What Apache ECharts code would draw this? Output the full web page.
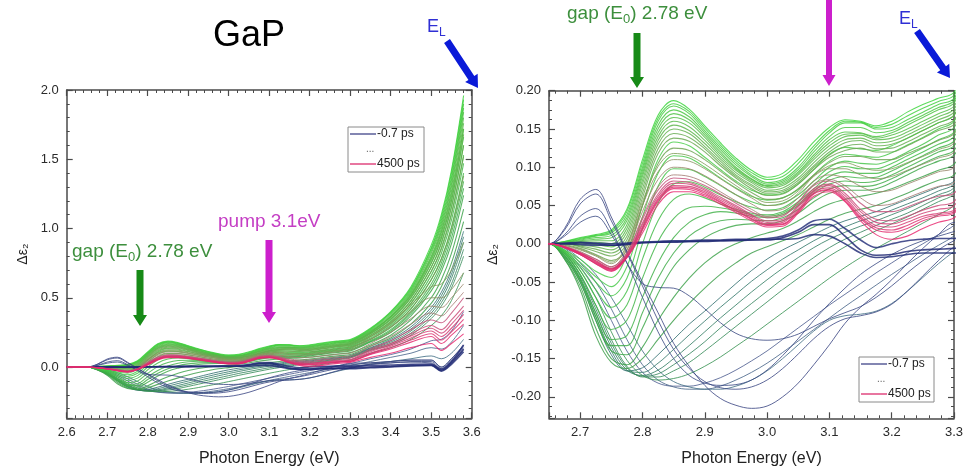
<!DOCTYPE html>
<html>
<head>
<meta charset="utf-8">
<title>GaP transient spectra</title>
<script src="https://cdn.jsdelivr.net/npm/echarts@6/dist/echarts.min.js"></script>
<style>
html, body { margin: 0; padding: 0; background: #fff; }
#chart { width: 971px; height: 476px; }
</style>
</head>
<body>
<div id="chart"></div>
<script>
// photon energy grid (eV), shared by both panels
const energy = [2.600, 2.625, 2.650, 2.675, 2.700, 2.725, 2.750, 2.775, 2.800, 2.825,
  2.850, 2.875, 2.900, 2.925, 2.950, 2.975, 3.000, 3.025, 3.050, 3.075,
  3.100, 3.125, 3.150, 3.175, 3.200, 3.225, 3.250, 3.275, 3.300,
  3.350, 3.400, 3.450, 3.500, 3.525, 3.550, 3.580]

// delta eps2 curves (early navy -> green -> late pink)
const navyFlat = [
  [0, 0, 0, 0, 0.001, 0, -0.002, -0.001, 0.001, 0.002, 0.002, 0.003, 0.003, 0.004, 0.004, 0.005, 0.005, 0.008, 0.015, 0.025, 0.025, 0.01, -0.008, -0.015, -0.014, -0.01, -0.008, -0.007, -0.006, 0, 0.005, 0.012, 0.015, -0.025, 0.03, 0.13],
  [0, 0, 0, 0, -0.001, -0.002, -0.002, 0, 0.002, 0.002, 0.003, 0.003, 0.004, 0.004, 0.005, 0.005, 0.006, 0.006, 0.007, 0.012, 0.01, 0, -0.012, -0.018, -0.017, -0.014, -0.012, -0.012, -0.012, -0.005, 0, 0.008, 0.012, -0.03, 0.02, 0.11],
  [0, 0, 0, 0.001, 0.002, 0.001, 0, 0.001, 0.002, 0.003, 0.004, 0.004, 0.005, 0.005, 0.006, 0.006, 0.007, 0.01, 0.018, 0.03, 0.032, 0.02, 0.005, -0.005, 0, 0.004, 0.006, 0.007, 0.007, 0.01, 0.015, 0.02, 0.022, -0.015, 0.04, 0.16]
]
const navyBump = [
  [0, 0, 0, 0.02, 0.058, 0.071, 0.035, -0.01, -0.05, -0.09, -0.13, -0.16, -0.185, -0.202, -0.211, -0.215, -0.212, -0.2, -0.182, -0.158, -0.132, -0.104, -0.083, -0.066, -0.047, -0.026, -0.006, 0.012, 0.028, 0.03, 0.04, 0.05, 0.05, 0, 0.06, 0.16],
  [0, 0, 0, 0.018, 0.052, 0.065, 0.03, -0.012, -0.055, -0.1, -0.138, -0.163, -0.18, -0.188, -0.19, -0.187, -0.178, -0.163, -0.144, -0.124, -0.108, -0.098, -0.094, -0.089, -0.079, -0.062, -0.042, -0.022, -0.004, 0.02, 0.03, 0.04, 0.04, -0.01, 0.05, 0.14],
  [0, 0, 0, 0.012, 0.036, 0.046, 0.018, -0.025, -0.052, -0.057, -0.058, -0.068, -0.085, -0.103, -0.117, -0.124, -0.126, -0.124, -0.118, -0.108, -0.098, -0.09, -0.082, -0.07, -0.055, -0.038, -0.022, -0.008, 0.004, 0.02, 0.03, 0.035, 0.03, -0.02, 0.04, 0.12],
  [0, 0, 0, 0.01, 0.028, 0.036, 0.012, -0.025, -0.07, -0.115, -0.15, -0.172, -0.182, -0.185, -0.184, -0.178, -0.165, -0.146, -0.124, -0.1, -0.078, -0.058, -0.04, -0.026, -0.014, -0.004, 0.004, 0.01, 0.016, 0.03, 0.04, 0.05, 0.05, 0, 0.06, 0.15]
]
const slate = [
  [0, 0, 0, -0.008, -0.03, -0.06, -0.1, -0.14, -0.168, -0.182, -0.186, -0.186, -0.182, -0.175, -0.165, -0.153, -0.14, -0.125, -0.11, -0.095, -0.08, -0.066, -0.052, -0.038, -0.025, -0.012, 0, 0.012, 0.024, 0.06, 0.09, 0.13, 0.19, 0.2, 0.26, 0.4],
  [0, 0, 0, -0.006, -0.025, -0.05, -0.085, -0.125, -0.158, -0.178, -0.187, -0.19, -0.19, -0.186, -0.178, -0.168, -0.156, -0.142, -0.127, -0.112, -0.097, -0.082, -0.068, -0.054, -0.04, -0.027, -0.014, -0.002, 0.01, 0.04, 0.07, 0.1, 0.14, 0.13, 0.18, 0.3],
  [0, 0, 0, -0.005, -0.02, -0.04, -0.07, -0.105, -0.14, -0.165, -0.18, -0.187, -0.19, -0.19, -0.186, -0.178, -0.166, -0.15, -0.132, -0.114, -0.1, -0.094, -0.092, -0.088, -0.078, -0.062, -0.044, -0.026, -0.01, 0.02, 0.04, 0.06, 0.08, 0.06, 0.1, 0.2]
]
const tealFan = [
  [0, 0, 0, -0.018, -0.05, -0.1, -0.145, -0.166, -0.162, -0.145, -0.125, -0.105, -0.088, -0.07, -0.052, -0.035, -0.02, -0.008, 0.002, 0.012, 0.022, 0.03, 0.036, 0.042, 0.05, 0.058, 0.066, 0.074, 0.082, 0.14, 0.2, 0.29, 0.43, 0.54, 0.7, 0.98],
  [0, 0, 0, -0.016, -0.047, -0.095, -0.14, -0.166, -0.168, -0.156, -0.138, -0.119, -0.101, -0.083, -0.066, -0.049, -0.034, -0.02, -0.008, 0.004, 0.014, 0.022, 0.03, 0.036, 0.044, 0.052, 0.06, 0.069, 0.078, 0.135, 0.19, 0.275, 0.41, 0.515, 0.67, 0.94],
  [0, 0, 0, -0.015, -0.045, -0.09, -0.135, -0.165, -0.172, -0.165, -0.15, -0.133, -0.115, -0.097, -0.08, -0.063, -0.047, -0.032, -0.018, -0.005, 0.006, 0.015, 0.023, 0.03, 0.038, 0.046, 0.055, 0.064, 0.073, 0.13, 0.18, 0.26, 0.39, 0.49, 0.64, 0.9],
  [0, 0, 0, -0.013, -0.042, -0.085, -0.13, -0.162, -0.173, -0.17, -0.158, -0.144, -0.128, -0.11, -0.094, -0.078, -0.062, -0.046, -0.032, -0.018, -0.005, 0.006, 0.015, 0.024, 0.032, 0.04, 0.05, 0.06, 0.069, 0.125, 0.17, 0.245, 0.37, 0.465, 0.6, 0.85],
  [0, 0, 0, -0.012, -0.04, -0.08, -0.125, -0.16, -0.174, -0.174, -0.166, -0.155, -0.14, -0.124, -0.108, -0.092, -0.076, -0.06, -0.045, -0.03, -0.016, -0.004, 0.007, 0.017, 0.026, 0.035, 0.045, 0.055, 0.065, 0.12, 0.16, 0.23, 0.35, 0.44, 0.57, 0.8],
  [0, 0, 0, -0.01, -0.035, -0.07, -0.115, -0.152, -0.172, -0.178, -0.176, -0.17, -0.16, -0.148, -0.134, -0.12, -0.105, -0.09, -0.075, -0.06, -0.045, -0.031, -0.018, -0.006, 0.005, 0.016, 0.027, 0.038, 0.05, 0.1, 0.14, 0.2, 0.3, 0.37, 0.48, 0.68]
]
const greenFan = [
  [0, 0, 0, -0.02, -0.06, -0.12, -0.155, -0.163, -0.15, -0.125, -0.1, -0.078, -0.058, -0.04, -0.025, -0.012, -0.004, 0.004, 0.012, 0.022, 0.032, 0.04, 0.045, 0.05, 0.058, 0.066, 0.075, 0.083, 0.09, 0.15, 0.21, 0.31, 0.46, 0.58, 0.75, 1.05],
  [0, 0, 0, -0.02, -0.055, -0.11, -0.15, -0.158, -0.135, -0.1, -0.07, -0.045, -0.025, -0.01, 0, 0.008, 0.014, 0.02, 0.03, 0.042, 0.052, 0.058, 0.062, 0.066, 0.072, 0.08, 0.088, 0.096, 0.104, 0.16, 0.23, 0.34, 0.5, 0.63, 0.82, 1.14],
  [0, 0, 0, -0.018, -0.05, -0.1, -0.14, -0.145, -0.11, -0.065, -0.03, -0.008, 0.008, 0.018, 0.024, 0.026, 0.026, 0.03, 0.04, 0.055, 0.066, 0.07, 0.07, 0.072, 0.08, 0.09, 0.1, 0.108, 0.116, 0.18, 0.25, 0.37, 0.55, 0.69, 0.89, 1.24],
  [0, 0, 0, -0.016, -0.047, -0.095, -0.133, -0.133, -0.09, -0.045, -0.012, 0.01, 0.023, 0.03, 0.032, 0.031, 0.03, 0.034, 0.045, 0.06, 0.072, 0.076, 0.075, 0.077, 0.085, 0.095, 0.105, 0.114, 0.122, 0.185, 0.26, 0.385, 0.575, 0.72, 0.93, 1.29],
  [0, 0, 0, -0.015, -0.045, -0.09, -0.125, -0.12, -0.07, -0.025, 0.008, 0.028, 0.038, 0.042, 0.04, 0.036, 0.034, 0.038, 0.05, 0.066, 0.078, 0.082, 0.08, 0.082, 0.09, 0.1, 0.11, 0.12, 0.128, 0.19, 0.27, 0.4, 0.6, 0.75, 0.97, 1.34],
  [0, 0, 0, -0.013, -0.04, -0.08, -0.112, -0.1, -0.045, 0.003, 0.033, 0.047, 0.049, 0.047, 0.043, 0.038, 0.036, 0.04, 0.052, 0.069, 0.083, 0.088, 0.086, 0.087, 0.095, 0.105, 0.115, 0.125, 0.134, 0.2, 0.285, 0.42, 0.63, 0.78, 1.01, 1.4],
  [0, 0, 0, -0.012, -0.035, -0.07, -0.097, -0.08, -0.02, 0.03, 0.058, 0.065, 0.06, 0.052, 0.045, 0.04, 0.038, 0.042, 0.055, 0.072, 0.088, 0.094, 0.092, 0.092, 0.1, 0.11, 0.12, 0.13, 0.14, 0.21, 0.3, 0.44, 0.66, 0.82, 1.06, 1.47],
  [0, 0, 0, -0.011, -0.031, -0.06, -0.083, -0.062, 0, 0.053, 0.078, 0.081, 0.074, 0.064, 0.055, 0.048, 0.044, 0.047, 0.06, 0.077, 0.094, 0.101, 0.098, 0.098, 0.105, 0.115, 0.125, 0.136, 0.146, 0.22, 0.315, 0.46, 0.69, 0.86, 1.11, 1.53],
  [0, 0, 0, -0.01, -0.028, -0.05, -0.068, -0.045, 0.02, 0.075, 0.098, 0.097, 0.088, 0.076, 0.064, 0.055, 0.05, 0.053, 0.064, 0.082, 0.1, 0.108, 0.105, 0.104, 0.11, 0.12, 0.13, 0.142, 0.152, 0.23, 0.33, 0.48, 0.72, 0.9, 1.16, 1.6],
  [0, 0, 0, -0.009, -0.024, -0.043, -0.056, -0.03, 0.035, 0.092, 0.115, 0.112, 0.1, 0.086, 0.073, 0.062, 0.057, 0.06, 0.071, 0.09, 0.108, 0.117, 0.115, 0.113, 0.119, 0.129, 0.139, 0.15, 0.16, 0.24, 0.345, 0.5, 0.75, 0.93, 1.2, 1.66],
  [0, 0, 0, -0.008, -0.02, -0.036, -0.044, -0.015, 0.05, 0.11, 0.133, 0.128, 0.113, 0.097, 0.082, 0.07, 0.064, 0.066, 0.078, 0.097, 0.117, 0.126, 0.124, 0.122, 0.128, 0.138, 0.148, 0.158, 0.168, 0.25, 0.36, 0.52, 0.78, 0.97, 1.25, 1.72]
]
const greenPeak = [
  [0, 0, 0, 0.003, 0.008, 0.012, 0.018, 0.045, 0.11, 0.168, 0.187, 0.176, 0.154, 0.132, 0.112, 0.096, 0.087, 0.092, 0.11, 0.133, 0.152, 0.162, 0.16, 0.154, 0.16, 0.172, 0.182, 0.19, 0.198, 0.28, 0.4, 0.58, 0.88, 1.1, 1.42, 1.96],
  [0, 0, 0, 0.003, 0.007, 0.011, 0.016, 0.042, 0.105, 0.164, 0.183, 0.173, 0.151, 0.129, 0.109, 0.093, 0.084, 0.088, 0.105, 0.128, 0.148, 0.16, 0.159, 0.152, 0.156, 0.167, 0.177, 0.186, 0.194, 0.275, 0.395, 0.57, 0.86, 1.08, 1.4, 1.93],
  [0, 0, 0, 0.002, 0.006, 0.01, 0.014, 0.038, 0.1, 0.16, 0.18, 0.17, 0.148, 0.126, 0.106, 0.09, 0.08, 0.084, 0.1, 0.124, 0.145, 0.158, 0.158, 0.15, 0.152, 0.162, 0.172, 0.182, 0.19, 0.27, 0.39, 0.56, 0.85, 1.06, 1.37, 1.9],
  [0, 0, 0, 0.002, 0.005, 0.008, 0.011, 0.034, 0.096, 0.155, 0.175, 0.166, 0.145, 0.123, 0.103, 0.088, 0.078, 0.082, 0.097, 0.12, 0.14, 0.152, 0.152, 0.145, 0.148, 0.158, 0.168, 0.178, 0.187, 0.265, 0.38, 0.55, 0.835, 1.04, 1.35, 1.87],
  [0, 0, 0, 0.002, 0.004, 0.006, 0.008, 0.03, 0.092, 0.15, 0.17, 0.162, 0.142, 0.12, 0.1, 0.085, 0.076, 0.08, 0.094, 0.116, 0.136, 0.146, 0.145, 0.14, 0.145, 0.155, 0.165, 0.175, 0.184, 0.26, 0.37, 0.54, 0.82, 1.02, 1.32, 1.84],
  [0, 0, 0, 0.001, 0.003, 0.004, 0.004, 0.025, 0.088, 0.145, 0.165, 0.158, 0.139, 0.117, 0.098, 0.084, 0.075, 0.078, 0.092, 0.113, 0.132, 0.143, 0.144, 0.138, 0.142, 0.15, 0.16, 0.17, 0.18, 0.255, 0.365, 0.53, 0.8, 1.0, 1.3, 1.8],
  [0, 0, 0, 0.001, 0.002, 0.002, 0, 0.02, 0.083, 0.14, 0.16, 0.153, 0.135, 0.114, 0.096, 0.082, 0.073, 0.076, 0.09, 0.11, 0.128, 0.14, 0.142, 0.136, 0.138, 0.146, 0.156, 0.166, 0.176, 0.25, 0.36, 0.52, 0.79, 0.98, 1.27, 1.76],
  [0, 0, 0, 0, 0, -0.001, -0.004, 0.015, 0.078, 0.135, 0.155, 0.148, 0.131, 0.111, 0.093, 0.08, 0.07, 0.073, 0.086, 0.106, 0.124, 0.136, 0.138, 0.132, 0.134, 0.142, 0.152, 0.162, 0.172, 0.245, 0.35, 0.51, 0.77, 0.95, 1.23, 1.72],
  [0, 0, 0, 0, -0.002, -0.004, -0.008, 0.01, 0.072, 0.13, 0.15, 0.144, 0.127, 0.108, 0.09, 0.077, 0.068, 0.07, 0.083, 0.102, 0.12, 0.132, 0.135, 0.128, 0.13, 0.138, 0.148, 0.158, 0.168, 0.24, 0.34, 0.5, 0.75, 0.93, 1.2, 1.68],
  [0, 0, 0, 0, -0.003, -0.007, -0.012, 0.005, 0.066, 0.124, 0.144, 0.139, 0.124, 0.105, 0.088, 0.075, 0.066, 0.068, 0.08, 0.1, 0.116, 0.127, 0.13, 0.124, 0.125, 0.133, 0.143, 0.153, 0.162, 0.23, 0.325, 0.48, 0.72, 0.89, 1.15, 1.6],
  [0, 0, 0, 0, -0.004, -0.01, -0.016, 0, 0.06, 0.118, 0.138, 0.134, 0.12, 0.102, 0.086, 0.072, 0.063, 0.065, 0.078, 0.097, 0.113, 0.122, 0.125, 0.12, 0.12, 0.128, 0.138, 0.148, 0.156, 0.22, 0.31, 0.46, 0.69, 0.85, 1.1, 1.52],
  [0, 0, 0, -0.001, -0.006, -0.014, -0.022, -0.008, 0.05, 0.105, 0.125, 0.122, 0.11, 0.095, 0.08, 0.067, 0.058, 0.06, 0.072, 0.09, 0.106, 0.114, 0.114, 0.11, 0.11, 0.118, 0.126, 0.135, 0.144, 0.2, 0.29, 0.42, 0.63, 0.78, 1.0, 1.38]
]
const olive = [
  [0, 0, 0, -0.002, -0.007, -0.015, -0.024, -0.002, 0.055, 0.101, 0.118, 0.115, 0.104, 0.09, 0.076, 0.063, 0.054, 0.056, 0.069, 0.089, 0.102, 0.106, 0.1, 0.096, 0.098, 0.106, 0.114, 0.123, 0.132, 0.22, 0.32, 0.45, 0.58, 0.6, 0.7, 0.9],
  [0, 0, 0, -0.002, -0.008, -0.016, -0.026, -0.004, 0.05, 0.094, 0.11, 0.108, 0.098, 0.085, 0.072, 0.06, 0.05, 0.052, 0.066, 0.088, 0.098, 0.098, 0.09, 0.085, 0.088, 0.096, 0.104, 0.112, 0.12, 0.2, 0.29, 0.4, 0.5, 0.5, 0.56, 0.68],
  [0, 0, 0, -0.003, -0.01, -0.02, -0.03, -0.008, 0.042, 0.084, 0.1, 0.098, 0.089, 0.077, 0.064, 0.052, 0.043, 0.045, 0.06, 0.082, 0.09, 0.086, 0.075, 0.068, 0.07, 0.078, 0.086, 0.094, 0.1, 0.17, 0.25, 0.35, 0.44, 0.43, 0.5, 0.6],
  [0, 0, 0, -0.004, -0.012, -0.022, -0.032, -0.012, 0.035, 0.074, 0.09, 0.088, 0.08, 0.068, 0.056, 0.045, 0.036, 0.038, 0.055, 0.078, 0.084, 0.076, 0.06, 0.05, 0.052, 0.06, 0.068, 0.075, 0.08, 0.15, 0.22, 0.31, 0.39, 0.37, 0.44, 0.54]
]
const pink = [
  [0, 0, 0, -0.004, -0.011, -0.02, -0.03, -0.012, 0.032, 0.07, 0.086, 0.084, 0.076, 0.065, 0.053, 0.042, 0.034, 0.036, 0.054, 0.076, 0.082, 0.072, 0.053, 0.042, 0.042, 0.048, 0.056, 0.062, 0.066, 0.13, 0.19, 0.27, 0.34, 0.32, 0.39, 0.5],
  [0, 0, 0, -0.004, -0.012, -0.022, -0.032, -0.014, 0.027, 0.065, 0.082, 0.08, 0.072, 0.061, 0.05, 0.038, 0.03, 0.032, 0.05, 0.072, 0.078, 0.066, 0.045, 0.032, 0.03, 0.036, 0.044, 0.05, 0.055, 0.12, 0.17, 0.24, 0.3, 0.27, 0.34, 0.44],
  [0, 0, 0, -0.004, -0.013, -0.024, -0.033, -0.015, 0.025, 0.062, 0.079, 0.078, 0.07, 0.059, 0.048, 0.037, 0.028, 0.03, 0.048, 0.07, 0.076, 0.063, 0.042, 0.028, 0.026, 0.032, 0.04, 0.045, 0.05, 0.11, 0.16, 0.225, 0.28, 0.245, 0.31, 0.41],
  [0, 0, 0, -0.005, -0.014, -0.025, -0.034, -0.016, 0.022, 0.059, 0.076, 0.075, 0.068, 0.057, 0.046, 0.035, 0.026, 0.028, 0.045, 0.068, 0.073, 0.06, 0.038, 0.024, 0.022, 0.028, 0.036, 0.04, 0.044, 0.1, 0.15, 0.21, 0.26, 0.22, 0.28, 0.38],
  [0, 0, 0, -0.005, -0.014, -0.026, -0.035, -0.017, 0.02, 0.057, 0.074, 0.073, 0.066, 0.055, 0.044, 0.033, 0.025, 0.026, 0.043, 0.066, 0.071, 0.058, 0.035, 0.021, 0.018, 0.024, 0.033, 0.038, 0.042, 0.095, 0.14, 0.195, 0.24, 0.195, 0.255, 0.345],
  [0, 0, 0, -0.005, -0.014, -0.026, -0.036, -0.018, 0.018, 0.055, 0.072, 0.071, 0.064, 0.054, 0.043, 0.032, 0.024, 0.025, 0.042, 0.065, 0.07, 0.056, 0.033, 0.018, 0.015, 0.02, 0.03, 0.036, 0.04, 0.09, 0.13, 0.18, 0.22, 0.17, 0.23, 0.31],
  [0, 0, 0, -0.004, -0.012, -0.023, -0.033, -0.018, 0.014, 0.051, 0.068, 0.068, 0.062, 0.052, 0.041, 0.03, 0.022, 0.023, 0.04, 0.062, 0.068, 0.055, 0.03, 0.012, 0.006, 0.01, 0.02, 0.028, 0.034, 0.07, 0.1, 0.14, 0.17, 0.12, 0.17, 0.24]
]

const FONT = '"Liberation Sans", Arial, sans-serif'
const frame = '#4a4a4a'

// colour goes from the first to the second stop across a family
function mix (a, b, t) {
    const pa = [1, 3, 5].map(i => parseInt(a.substr(i, 2), 16))
    const pb = [1, 3, 5].map(i => parseInt(b.substr(i, 2), 16))
    return 'rgb(' + pa.map((v, i) => Math.round(v + (pb[i] - v) * t)).join(',') + ')'
}

// drawing order: bottom first, pink last (on top)
const families = [
    { curves: slate, stops: ['#4a5a8e', '#3f6c82'], width: 1 },
    { curves: tealFan, stops: ['#2f6e6e', '#34914f'], width: 1 },
    { curves: greenFan, stops: ['#3a9c48', '#44cd44'], width: 1.1 },
    { curves: greenPeak, stops: ['#38d438', '#6ea253'], width: 1.1 },
    { curves: olive, stops: ['#7f9c58', '#a47a72'], width: 1 },
    { curves: navyBump, stops: ['#3b4682', '#3a4a84'], width: 1 },
    { curves: navyFlat, stops: ['#1c2570', '#222c78'], width: 1.6 },
    { curves: pink, stops: ['#c4507a', '#e8246c'], width: 1.1 }
]

const series = []
families.forEach(fam => {
    const n = fam.curves.length
    fam.curves.forEach((c, k) => {
        const pts = energy.map((e, i) => [e, c[i]])
        const color = mix(fam.stops[0], fam.stops[1], n > 1 ? k / (n - 1) : 0)
        ;[0, 2].forEach(ax => {
            series.push({
                type: 'line',
                xAxisIndex: ax,
                yAxisIndex: ax,
                data: pts,
                showSymbol: false,
                symbol: 'none',
                smooth: 0.35,
                silent: true,
                lineStyle: { width: fam.width, color: color, opacity: 0.82 }
            })
        })
    })
})

// shared axis styling
function axisBase (grid, pos, min, max, split, minorSplit, showLabel, fmt) {
    return {
        type: 'value',
        gridIndex: grid,
        position: pos,
        min: min,
        max: max,
        splitNumber: split,
        axisLine: { show: true, onZero: false, lineStyle: { color: frame, width: 1.5 } },
        axisTick: { show: true, inside: true, length: 6, lineStyle: { color: frame, width: 1.2 } },
        minorTick: { show: true, splitNumber: minorSplit, length: 3, lineStyle: { color: frame, width: 1 } },
        splitLine: { show: false },
        axisLabel: {
            show: showLabel,
            showMinLabel: false,
            margin: 8,
            color: '#2a2a2a',
            fontSize: 13,
            fontFamily: FONT,
            formatter: fmt
        }
    }
}
const f1 = v => v.toFixed(1)
const f2 = v => v.toFixed(2)
const xName = {
    name: 'Photon Energy (eV)', nameLocation: 'middle', nameGap: 32,
    nameTextStyle: { fontSize: 16, fontFamily: FONT, color: '#222' }
}

const xAxes = [
    Object.assign(axisBase(0, 'bottom', 2.6, 3.6, 10, 5, true, f1), xName),
    axisBase(0, 'top', 2.6, 3.6, 10, 5, false, f1),
    Object.assign(axisBase(1, 'bottom', 2.65, 3.3, 7, 5, true, f1), xName),
    axisBase(1, 'top', 2.65, 3.3, 7, 5, false, f1)
]
xAxes[0].axisLabel.showMinLabel = true
const yAxes = [
    Object.assign(axisBase(0, 'left', -0.37, 2.0, 5, 5, true, f1), {
        name: 'Δε₂', nameLocation: 'middle', nameGap: 37,
        nameTextStyle: { fontSize: 14, fontFamily: FONT, color: '#222' }
    }),
    axisBase(0, 'right', -0.37, 2.0, 5, 5, false, f1),
    Object.assign(axisBase(1, 'left', -0.228, 0.2, 8, 4, true, f2), {
        name: 'Δε₂', nameLocation: 'middle', nameGap: 49,
        nameTextStyle: { fontSize: 14, fontFamily: FONT, color: '#222' }
    }),
    axisBase(1, 'right', -0.228, 0.2, 8, 4, false, f2)
]

// annotation helpers (arrows, subscripted labels, small legend boxes)
function arrow (x1, y1, x2, y2, w, hw, hl, color) {
    const dx = x2 - x1
    const dy = y2 - y1
    const len = Math.hypot(dx, dy)
    const ux = dx / len
    const uy = dy / len
    const nx = -uy
    const ny = ux
    const bx = x2 - ux * hl
    const by = y2 - uy * hl
    return {
        type: 'polygon',
        z: 100,
        shape: {
            points: [
                [x1 + nx * w / 2, y1 + ny * w / 2],
                [bx + nx * w / 2, by + ny * w / 2],
                [bx + nx * hw / 2, by + ny * hw / 2],
                [x2, y2],
                [bx - nx * hw / 2, by - ny * hw / 2],
                [bx - nx * w / 2, by - ny * w / 2],
                [x1 - nx * w / 2, y1 - ny * w / 2]
            ]
        },
        style: { fill: color }
    }
}
const measure = document.createElement('canvas').getContext('2d')
function textWidth (s, size) {
    measure.font = size + 'px ' + FONT
    return measure.measureText(s).width
}
// parts: [text, isSubscript]
function subText (x, y, parts, size, subSize, color) {
    const els = []
    let cx = x
    parts.forEach(p => {
        const sz = p[1] ? subSize : size
        els.push({
            type: 'text', z: 100, x: cx, y: p[1] ? y + size * 0.3 : y,
            style: { text: p[0], fontSize: sz, fontFamily: FONT, fill: color, verticalAlign: 'middle' }
        })
        cx += textWidth(p[0], sz)
    })
    return els
}
function legendBox (x, y, w, h) {
    return [
        { type: 'rect', z: 90, shape: { x: x, y: y, width: w, height: h }, style: { fill: '#fff', stroke: '#8a8a8a', lineWidth: 1 } },
        { type: 'line', z: 91, shape: { x1: x + 2, y1: y + 7, x2: x + 28, y2: y + 7 }, style: { stroke: '#5a5e98', lineWidth: 1.5 } },
        { type: 'text', z: 91, x: x + 29, y: y + 7, style: { text: '-0.7 ps', fontSize: 12, fontFamily: FONT, fill: '#222', verticalAlign: 'middle' } },
        { type: 'text', z: 91, x: x + 18, y: y + 22, style: { text: '...', fontSize: 10, fontFamily: FONT, fill: '#666', verticalAlign: 'middle' } },
        { type: 'line', z: 91, shape: { x1: x + 2, y1: y + 37, x2: x + 28, y2: y + 37 }, style: { stroke: '#e04880', lineWidth: 1.5 } },
        { type: 'text', z: 91, x: x + 29, y: y + 37, style: { text: '4500 ps', fontSize: 12, fontFamily: FONT, fill: '#222', verticalAlign: 'middle' } }
    ]
}

const gapGreen = '#3d8f3d'
const graphics = [].concat(
    [{ type: 'text', z: 100, x: 249, y: 36, style: { text: 'GaP', fontSize: 36, fontFamily: FONT, fill: '#000', align: 'center', verticalAlign: 'middle' } }],
    // left panel
    subText(427, 27, [['E', false], ['L', true]], 18, 12, '#2f2fd4'),
    [arrow(447, 41, 478, 88, 7, 15, 12, '#0a1ad8')],
    subText(72, 252, [['gap (E', false], ['0', true], [') 2.78 eV', false]], 19, 13, gapGreen),
    [arrow(140, 270, 140, 326, 7, 14, 11, '#178a17')],
    [{ type: 'text', z: 100, x: 218, y: 222, style: { text: 'pump 3.1eV', fontSize: 19, fontFamily: FONT, fill: '#c43ec4', verticalAlign: 'middle' } }],
    [arrow(269, 240, 269, 323, 7, 14, 11, '#cc1fcc')],
    legendBox(348, 127, 76, 45),
    // right panel
    subText(567, 14, [['gap (E', false], ['0', true], [') 2.78 eV', false]], 19, 13, gapGreen),
    [arrow(637, 33, 637, 88, 7, 14, 11, '#178a17')],
    [arrow(829, 0, 829, 86, 6, 13, 11, '#cc1fcc')],
    subText(899, 19, [['E', false], ['L', true]], 18, 12, '#2f2fd4'),
    [arrow(917, 31, 950, 78, 7, 15, 12, '#0a1ad8')],
    legendBox(859, 357, 75, 45)
)

const chart = echarts.init(document.getElementById('chart'))
chart.setOption({
    animation: false,
    backgroundColor: '#fff',
    grid: [
        { left: 66.7, top: 90, width: 405, height: 328.3 },
        { left: 549, top: 90.7, width: 405, height: 327.6 }
    ],
    xAxis: xAxes,
    yAxis: yAxes,
    series: series,
    graphic: graphics
})
</script>
</body>
</html>
